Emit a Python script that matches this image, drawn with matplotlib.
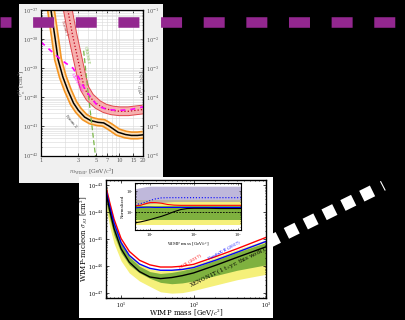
import numpy as np
import matplotlib
matplotlib.use("Agg")
import matplotlib.pyplot as plt
from matplotlib.ticker import LogLocator, NullFormatter

plt.rcParams['font.family'] = 'DejaVu Serif'
plt.rcParams['mathtext.fontset'] = 'cm'

# upper panel: low mass limits, log10(sigma / cm^2)
m_black = [1.34, 1.5, 1.65, 1.9, 2.2, 2.6, 3.0, 3.6, 4.3, 5.3, 6.3, 7.5, 9.6, 12, 14.2, 17, 20]
s_black = [-37.0, -37.9, -38.7, -39.3, -39.76, -40.2, -40.45, -40.68, -40.8, -40.86,
           -40.88, -41.0, -41.2, -41.28, -41.31, -41.31, -41.29]
m_red = [2.2, 2.5, 2.9, 3.3, 3.6, 4.2, 5.3, 6.5, 8, 10, 13, 16, 20]
s_red = [-37.0, -37.8, -38.6, -39.3, -39.7, -40.0, -40.25, -40.38, -40.45, -40.48, -40.48, -40.45, -40.42]
m_mag = [1.0, 1.4, 1.82, 2.56, 3.0, 3.6, 4.3, 5.3, 7, 10, 14, 20]
s_mag = [-38.1, -38.45, -38.72, -39.0, -39.3, -39.7, -40.0, -40.3, -40.42, -40.45, -40.42, -40.33]
m_green = [3.5, 3.9, 4.3, 4.7, 5.0]
s_green = [-38.4, -39.6, -40.6, -41.5, -42.1]
up_xticks = [1, 3, 5, 7, 10, 15, 20]

# lower panel: XENON1T result, log10(sigma / cm^2)
m_lo = [6, 7, 8, 10, 13, 18, 25, 35, 50, 70, 100, 200, 400, 1000]
lux = [-42.9, -43.65, -44.25, -44.97, -45.45, -45.78, -45.95, -46.03, -46.03, -46.0, -45.93, -45.65, -45.35, -44.93]
pandax = [-43.0, -43.8, -44.4, -45.12, -45.6, -45.92, -46.08, -46.15, -46.15, -46.12, -46.05, -45.78, -45.48, -45.08]
xe1t = [-43.1, -43.95, -44.6, -45.35, -45.85, -46.2, -46.4, -46.46, -46.42, -46.35, -46.25, -45.97, -45.67, -45.28]
green_hi = [-42.9, -43.75, -44.4, -45.15, -45.65, -46.0, -46.2, -46.27, -46.23, -46.16, -46.06, -45.78, -45.48, -45.12]
green_lo = [-43.4, -44.25, -44.85, -45.5, -45.95, -46.25, -46.45, -46.6, -46.65, -46.62, -46.55, -46.35, -46.15, -45.95]
yellow_hi = [-42.8, -43.65, -44.3, -45.05, -45.55, -45.9, -46.1, -46.17, -46.13, -46.06, -45.96, -45.68, -45.38, -45.02]
yellow_lo = [-43.65, -44.55, -45.15, -45.8, -46.25, -46.55, -46.75, -46.95, -47.0, -46.98, -46.9, -46.7, -46.5, -46.3]

# inset: limits normalized to median sensitivity, log10
m_in = [4.5, 6, 8, 10, 13, 18, 25, 35, 50, 70, 100, 200, 400, 700, 1200]
purple_hi = [1.1, 1.15, 1.2, 1.22, 1.22, 1.22, 1.22, 1.22, 1.22, 1.22, 1.22, 1.22, 1.22, 1.22, 1.22]
purple_lo = [0.3, 0.35, 0.38, 0.4, 0.42, 0.45, 0.48, 0.5, 0.5, 0.5, 0.5, 0.5, 0.5, 0.5, 0.5]
blue_dot = [0.35, 0.4, 0.47, 0.55, 0.62, 0.67, 0.68, 0.68, 0.68, 0.68, 0.68, 0.68, 0.68, 0.68, 0.68]
red_in = [0.3, 0.32, 0.4, 0.45, 0.45, 0.42, 0.36, 0.33, 0.32, 0.32, 0.32, 0.32, 0.32, 0.32, 0.32]
blue_in = [0.2, 0.22, 0.23, 0.23, 0.22, 0.22, 0.22, 0.22, 0.22, 0.22, 0.22, 0.22, 0.22, 0.22, 0.22]
yel_in_hi = [0.55, 0.55, 0.55, 0.55, 0.55, 0.55, 0.55, 0.55, 0.55, 0.55, 0.55, 0.55, 0.55, 0.55, 0.55]
yel_in_lo = [-0.6, -0.6, -0.6, -0.6, -0.6, -0.6, -0.6, -0.6, -0.6, -0.6, -0.6, -0.6, -0.6, -0.6, -0.6]
grn_in_hi = [0.3, 0.3, 0.3, 0.3, 0.3, 0.3, 0.3, 0.3, 0.3, 0.3, 0.3, 0.3, 0.3, 0.3, 0.3]
grn_in_lo = [-0.38, -0.38, -0.38, -0.38, -0.38, -0.38, -0.38, -0.38, -0.38, -0.38, -0.38, -0.38, -0.38, -0.38, -0.38]
black_in = [-0.5, -0.46, -0.4, -0.35, -0.28, -0.2, -0.1, 0.02, 0.12, 0.17, 0.18, 0.18, 0.17, 0.17, 0.17]
median_in = [0.0] * len(m_in)

W, H = 406, 320


def rect(x0, y0, x1, y1):
    return [x0 / W, 1 - y1 / H, (x1 - x0) / W, (y1 - y0) / H]


def p10(v):
    return 10 ** np.array(v)


fig = plt.figure(figsize=(W / 100, H / 100), dpi=100, facecolor='black')

# background layer with the white dashed arrow
bg = fig.add_axes([0, 0, 1, 1])
bg.set_xlim(0, W)
bg.set_ylim(H, 0)
bg.axis('off')
bg.plot([248.7, 373.1], [252.0, 190.6], color='white', lw=8.6, dashes=(1.0, 0.76),
        dash_capstyle='butt')
bg.plot([380.7, 385.0], [181.7, 190.0], color='white', lw=0.8)

# ---------------- upper panel ----------------
fr1 = fig.add_axes(rect(19, 4, 163, 183))
fr1.set_facecolor('#f0f0f0')
fr1.set_xticks([])
fr1.set_yticks([])
for s in fr1.spines.values():
    s.set_visible(False)

ax1 = fig.add_axes(rect(41, 10, 143, 155.5))
ax1.set_xscale('log')
ax1.set_yscale('log')
ax1.set_xlim(1, 20)
ax1.set_ylim(1e-42, 1e-37)
ax1.grid(which='both', color='#d9d9d9', lw=0.4)
ax1.set_axisbelow(True)

ax1.plot(m_black, p10(s_black), color='#f39422', lw=6.0, solid_capstyle='butt')
ax1.plot(m_black, p10(s_black), color='#fde0b8', lw=3.6, solid_capstyle='butt')
ax1.plot(m_black, p10(s_black), color='black', lw=1.1)
ax1.plot(m_red, p10(s_red), color='#e0474c', lw=7.0, solid_capstyle='butt')
ax1.plot(m_red, p10(s_red), color='#f6b0ae', lw=5.6, solid_capstyle='butt')
ax1.plot(m_red, p10(s_red), color='#c0001a', lw=0.9, ls=':')
ax1.plot(m_mag, p10(s_mag), color='#ff00ff', lw=1.2, dashes=(3, 3))
ax1.plot(m_green, p10(s_green), color='#7ab648', lw=0.9, dashes=(4, 2))

ax1.text(1.99, 10 ** -37.62, 'Neon 1', color='#b03030', fontsize=3.2, rotation=-72,
         ha='center', va='center')
ax1.text(2.38, 10 ** -40.83, 'Neon 2', color='#333333', fontsize=3.2, rotation=-50,
         ha='center', va='center')
ax1.text(3.75, 10 ** -38.55, 'CRESST', color='#7ab648', fontsize=3.2, rotation=-80,
         ha='center', va='center')
ax1.text(2.85, 10 ** -39.5, 'CDMSlite', color='#ff00ff', fontsize=3.2, rotation=-60,
         ha='center', va='center')

ax1.set_xticks(up_xticks, labels=[str(t) for t in up_xticks])
ax1.xaxis.set_minor_formatter(NullFormatter())
ax1.yaxis.set_minor_locator(LogLocator(subs=np.arange(2, 10)))
ax1.yaxis.set_minor_formatter(NullFormatter())
ax1.tick_params(which='both', direction='in', top=True, labelsize=3.6, labelcolor='#555555',
                length=2, width=0.5, pad=2)
ax1.tick_params(which='minor', length=1)
ax1.set_xlabel(r'$m_{\rm WIMP}$ [GeV/$c^2$]', fontsize=4.2, color='#555555', va='center')
ax1.xaxis.set_label_coords(0.5, -0.11)
ax1.set_ylabel(r'$\sigma_n^{\rm SI}$ [cm$^2$]', fontsize=4.2, color='#555555', va='center')
ax1.yaxis.set_label_coords(-0.185, 0.5)
for s in ax1.spines.values():
    s.set_linewidth(0.9)

# right axis in pb (1 cm^2 = 1e36 pb)
ax1r = ax1.secondary_yaxis('right', functions=(lambda y: y * 1e36, lambda y: y / 1e36))
ax1r.yaxis.set_minor_locator(LogLocator(subs=np.arange(2, 10)))
ax1r.yaxis.set_minor_formatter(NullFormatter())
ax1r.tick_params(which='both', direction='in', labelsize=3.6, labelcolor='#555555',
                 length=2, width=0.5, pad=2)
ax1r.tick_params(which='minor', length=1)
ax1r.set_ylabel(r'$\sigma_n^{\rm SD}$ [pb]', fontsize=4.2, color='#555555', va='center')
ax1r.yaxis.set_label_coords(1.16, 0.5)

# ---------------- lower panel ----------------
fr2 = fig.add_axes(rect(79, 177, 273, 318))
fr2.set_facecolor('white')
fr2.set_xticks([])
fr2.set_yticks([])
for s in fr2.spines.values():
    s.set_visible(False)

ax2 = fig.add_axes(rect(106, 180, 266, 298))
ax2.set_xscale('log')
ax2.set_yscale('log')
ax2.set_xlim(6.2, 1000)
ax2.set_ylim(10 ** -47.18, 10 ** -42.8)
ax2.fill_between(m_lo, p10(yellow_lo), p10(yellow_hi), color='#f5f07a', lw=0)
ax2.fill_between(m_lo, p10(green_lo), p10(green_hi), color='#7fb13f', lw=0)
ax2.plot(m_lo, p10(lux), color='red', lw=1.0)
ax2.plot(m_lo, p10(pandax), color='blue', lw=1.0)
ax2.plot(m_lo, p10(xe1t), color='black', lw=1.0)
ax2.text(91, 10 ** -45.8, 'LUX (2017)', color='red', fontsize=3.2, rotation=30,
         ha='center', va='center')
ax2.text(262, 10 ** -45.42, 'PandaX-II (2017)', color='blue', fontsize=3.0, rotation=28,
         ha='center', va='center')
ax2.text(290, 10 ** -46.05, r'XENON1T (1 t$\times$yr, this work)', color='black', fontsize=4.0,
         rotation=26, ha='center', va='center')
ax2.xaxis.set_minor_formatter(NullFormatter())
ax2.yaxis.set_minor_formatter(NullFormatter())
ax2.tick_params(which='both', direction='in', top=True, right=True, labelsize=3.5,
                length=2, width=0.5, pad=2)
ax2.tick_params(which='minor', length=1)
ax2.set_xlabel(r'WIMP mass [GeV/$c^2$]', fontsize=5.0, va='center')
ax2.xaxis.set_label_coords(0.5, -0.133)
ax2.set_ylabel(r'WIMP-nucleon $\sigma_{SI}$ [cm$^2$]', fontsize=5.0, va='center')
ax2.yaxis.set_label_coords(-0.135, 0.5)
for s in ax2.spines.values():
    s.set_linewidth(1.0)

# inset
ax3 = fig.add_axes(rect(135, 183, 241, 230))
ax3.set_xscale('log')
ax3.set_yscale('log')
ax3.set_xlim(4.5, 1200)
ax3.set_ylim(10 ** -0.84, 10 ** 1.37)
ax3.fill_between(m_in, p10(yel_in_lo), p10(yel_in_hi), color='#f5f07a', lw=0)
ax3.fill_between(m_in, p10(grn_in_lo), p10(grn_in_hi), color='#7fb13f', lw=0)
ax3.fill_between(m_in, p10(purple_lo), p10(purple_hi), color='#8c7fbf', alpha=0.55, lw=0)
ax3.plot(m_in, p10(blue_dot), color='blue', lw=0.8, ls=':')
ax3.plot(m_in, p10(red_in), color='red', lw=0.8)
ax3.plot(m_in, p10(blue_in), color='blue', lw=0.8)
ax3.plot(m_in, p10(median_in), color='black', lw=0.6, dashes=(2, 1.5))
ax3.plot(m_in, p10(black_in), color='black', lw=0.8)
ax3.xaxis.set_minor_formatter(NullFormatter())
ax3.yaxis.set_minor_formatter(NullFormatter())
ax3.tick_params(which='both', direction='in', top=True, right=True, labelsize=2.5,
                length=1.2, width=0.4, pad=1)
ax3.tick_params(which='minor', length=0.7)
ax3.set_xlabel(r'WIMP mass [GeV/$c^2$]', fontsize=2.8, labelpad=1)
ax3.set_ylabel('Normalized', fontsize=2.8, labelpad=1)
for s in ax3.spines.values():
    s.set_linewidth(0.8)

# top overlay with the purple dashed line
ov = fig.add_axes([0, 0, 1, 1])
ov.set_xlim(0, W)
ov.set_ylim(H, 0)
ov.axis('off')
ov.plot([0, W], [22, 22], color='#93278f', lw=7.6, ls=(0.95, (1.99, 2.05)),
        dash_capstyle='butt')

fig.savefig('out.png', dpi=100, facecolor='black')
